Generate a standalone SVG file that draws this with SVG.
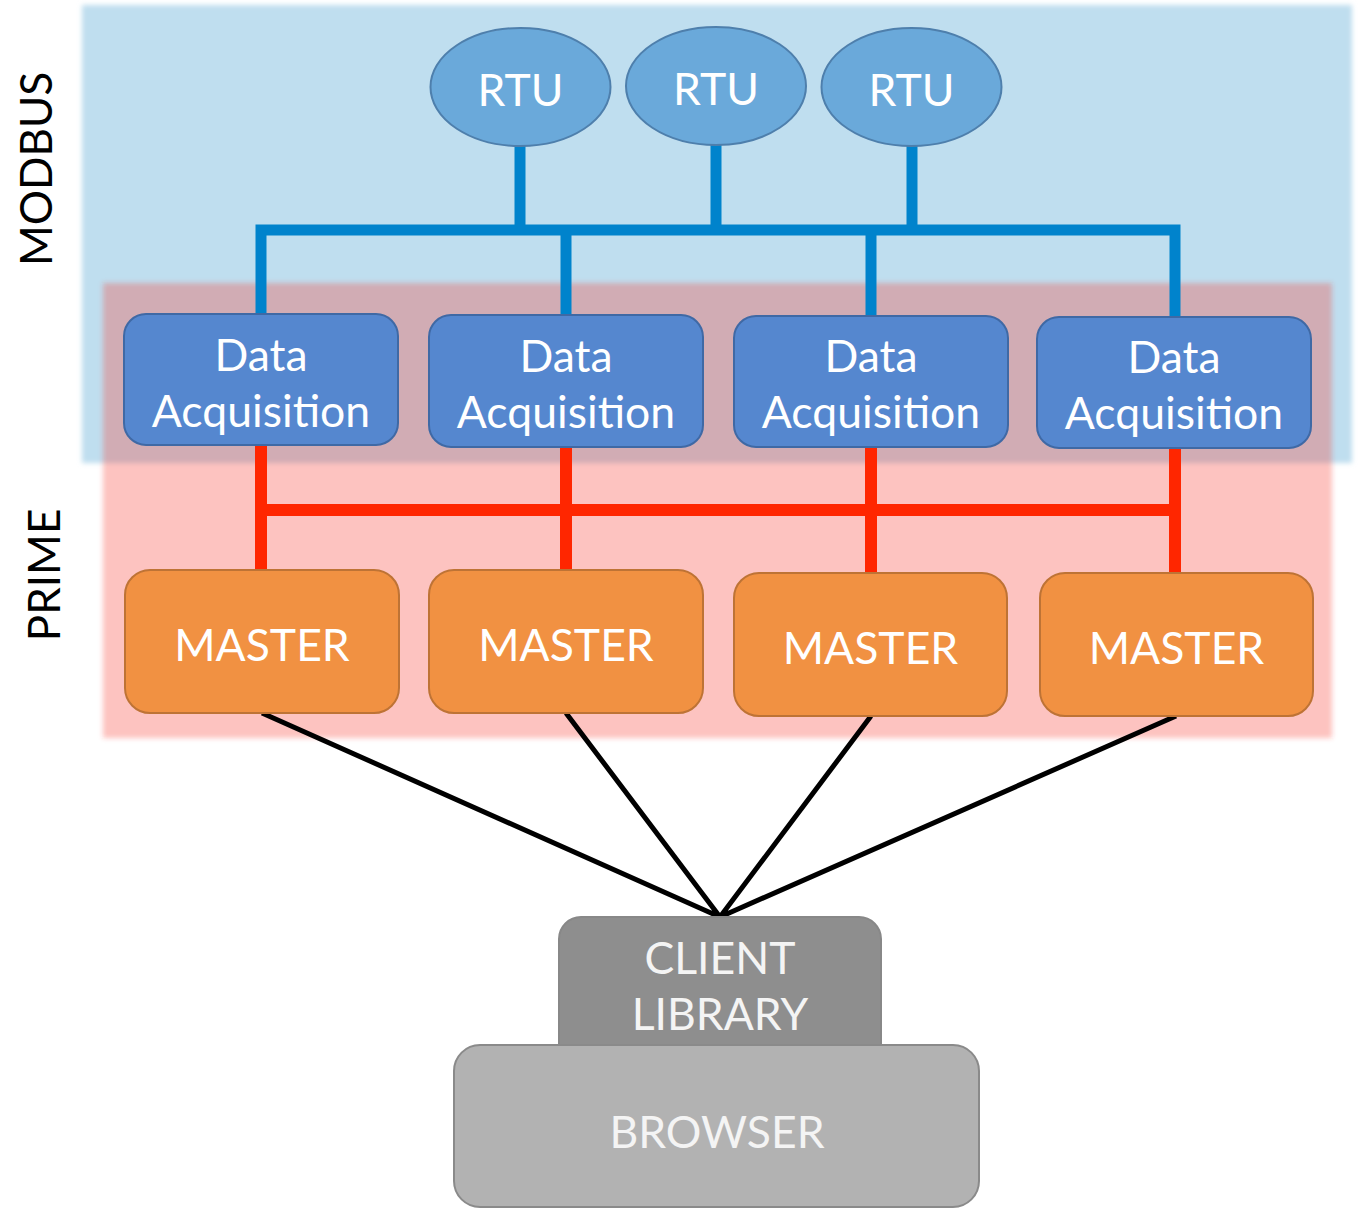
<svg xmlns="http://www.w3.org/2000/svg" width="1360" height="1209" viewBox="0 0 1360 1209">
  <defs>
    <filter id="soft" x="-5%" y="-5%" width="110%" height="110%">
      <feGaussianBlur stdDeviation="2.5"/>
    </filter>
    <style>
      .lbl { font-family: "Lato", "Open Sans", "Liberation Sans", sans-serif; fill: #ffffff; text-anchor: middle; font-size: 44.5px; }
      .side { font-family: "Lato", "Open Sans", "Liberation Sans", sans-serif; fill: #000000; text-anchor: middle; font-size: 44px; }
      .grey { fill: #F4F4F4; }
      .rtu { fill: #6AA9DA; stroke: #4E7FAC; stroke-width: 2; }
      .da { fill: #5587CF; stroke: #3F69A5; stroke-width: 2; }
      .master { fill: #F19142; stroke: #BE7335; stroke-width: 2; }
      .bus-blue { fill: none; stroke: #0083CC; stroke-width: 11; }
      .bus-red { fill: none; stroke: #FF2600; stroke-width: 12; }
      .link { fill: none; stroke: #000000; stroke-width: 5; }
    </style>
  </defs>

  <rect width="1360" height="1209" fill="#ffffff"/>

  <!-- background bands -->
  <g id="bands">
    <rect x="82" y="5" width="1270" height="458" fill="#BFDEEF" filter="url(#soft)"/>
    <rect x="103" y="283" width="1229" height="455" fill="#F73C28" fill-opacity="0.3" filter="url(#soft)"/>
  </g>

  <!-- layer labels -->
  <g id="label-modbus">
    <text class="side" transform="translate(52,169) rotate(-90)">MODBUS</text>
  </g>
  <g id="label-prime">
    <text class="side" transform="translate(60,575) rotate(-90)">PRIME</text>
  </g>

  <!-- connectors -->
  <g id="connectors">
    <path class="bus-blue" d="M261,315 V230 H1175 V317"/>
    <path class="bus-blue" d="M520,146 V230 M716,145 V230 M912,146 V230 M566,230 V316 M871,230 V317"/>
    <path class="bus-red" d="M261,446 V570 M566,447 V570 M871,447 V573 M1175,448 V573 M261,510 H1175"/>
    <path class="link" d="M262,713 L720,917 M566,713 L720,917 M871,716 L720,917 M1176,716 L720,917"/>
  </g>

  <!-- RTUs -->
  <g id="rtu-1">
    <ellipse class="rtu" cx="520.5" cy="87" rx="90" ry="59"/>
    <text class="lbl" x="520.5" y="106">RTU</text>
  </g>
  <g id="rtu-2">
    <ellipse class="rtu" cx="716" cy="86" rx="90" ry="59"/>
    <text class="lbl" x="716" y="105">RTU</text>
  </g>
  <g id="rtu-3">
    <ellipse class="rtu" cx="911.5" cy="87" rx="90" ry="59"/>
    <text class="lbl" x="911.5" y="106">RTU</text>
  </g>

  <!-- data acquisition -->
  <g id="da-1">
    <rect class="da" x="124" y="314" width="274" height="131" rx="22"/>
    <text class="lbl" x="261" y="371">Data</text>
    <text class="lbl" x="261" y="427">Acquisition</text>
  </g>
  <g id="da-2">
    <rect class="da" x="429" y="315" width="274" height="132" rx="22"/>
    <text class="lbl" x="566" y="372">Data</text>
    <text class="lbl" x="566" y="428">Acquisition</text>
  </g>
  <g id="da-3">
    <rect class="da" x="734" y="316" width="274" height="131" rx="22"/>
    <text class="lbl" x="871" y="372">Data</text>
    <text class="lbl" x="871" y="428">Acquisition</text>
  </g>
  <g id="da-4">
    <rect class="da" x="1037" y="317" width="274" height="131" rx="22"/>
    <text class="lbl" x="1174" y="373">Data</text>
    <text class="lbl" x="1174" y="429">Acquisition</text>
  </g>

  <!-- masters -->
  <g id="master-1">
    <rect class="master" x="125" y="570" width="274" height="143" rx="25"/>
    <text class="lbl" x="262" y="661">MASTER</text>
  </g>
  <g id="master-2">
    <rect class="master" x="429" y="570" width="274" height="143" rx="25"/>
    <text class="lbl" x="566" y="661">MASTER</text>
  </g>
  <g id="master-3">
    <rect class="master" x="734" y="573" width="273" height="143" rx="25"/>
    <text class="lbl" x="870.5" y="664">MASTER</text>
  </g>
  <g id="master-4">
    <rect class="master" x="1040" y="573" width="273" height="143" rx="25"/>
    <text class="lbl" x="1176.5" y="664">MASTER</text>
  </g>

  <!-- client side -->
  <g id="client-library">
    <rect x="559" y="917" width="322" height="160" rx="22" fill="#8E8E8E" stroke="#888888" stroke-width="2"/>
    <text class="lbl grey" x="720" y="974">CLIENT</text>
    <text class="lbl grey" x="720" y="1030">LIBRARY</text>
  </g>
  <g id="browser">
    <rect x="454" y="1045" width="525" height="162" rx="26" fill="#B2B2B2" stroke="#8A8A8A" stroke-width="2"/>
    <text class="lbl grey" x="717" y="1148">BROWSER</text>
  </g>
</svg>
